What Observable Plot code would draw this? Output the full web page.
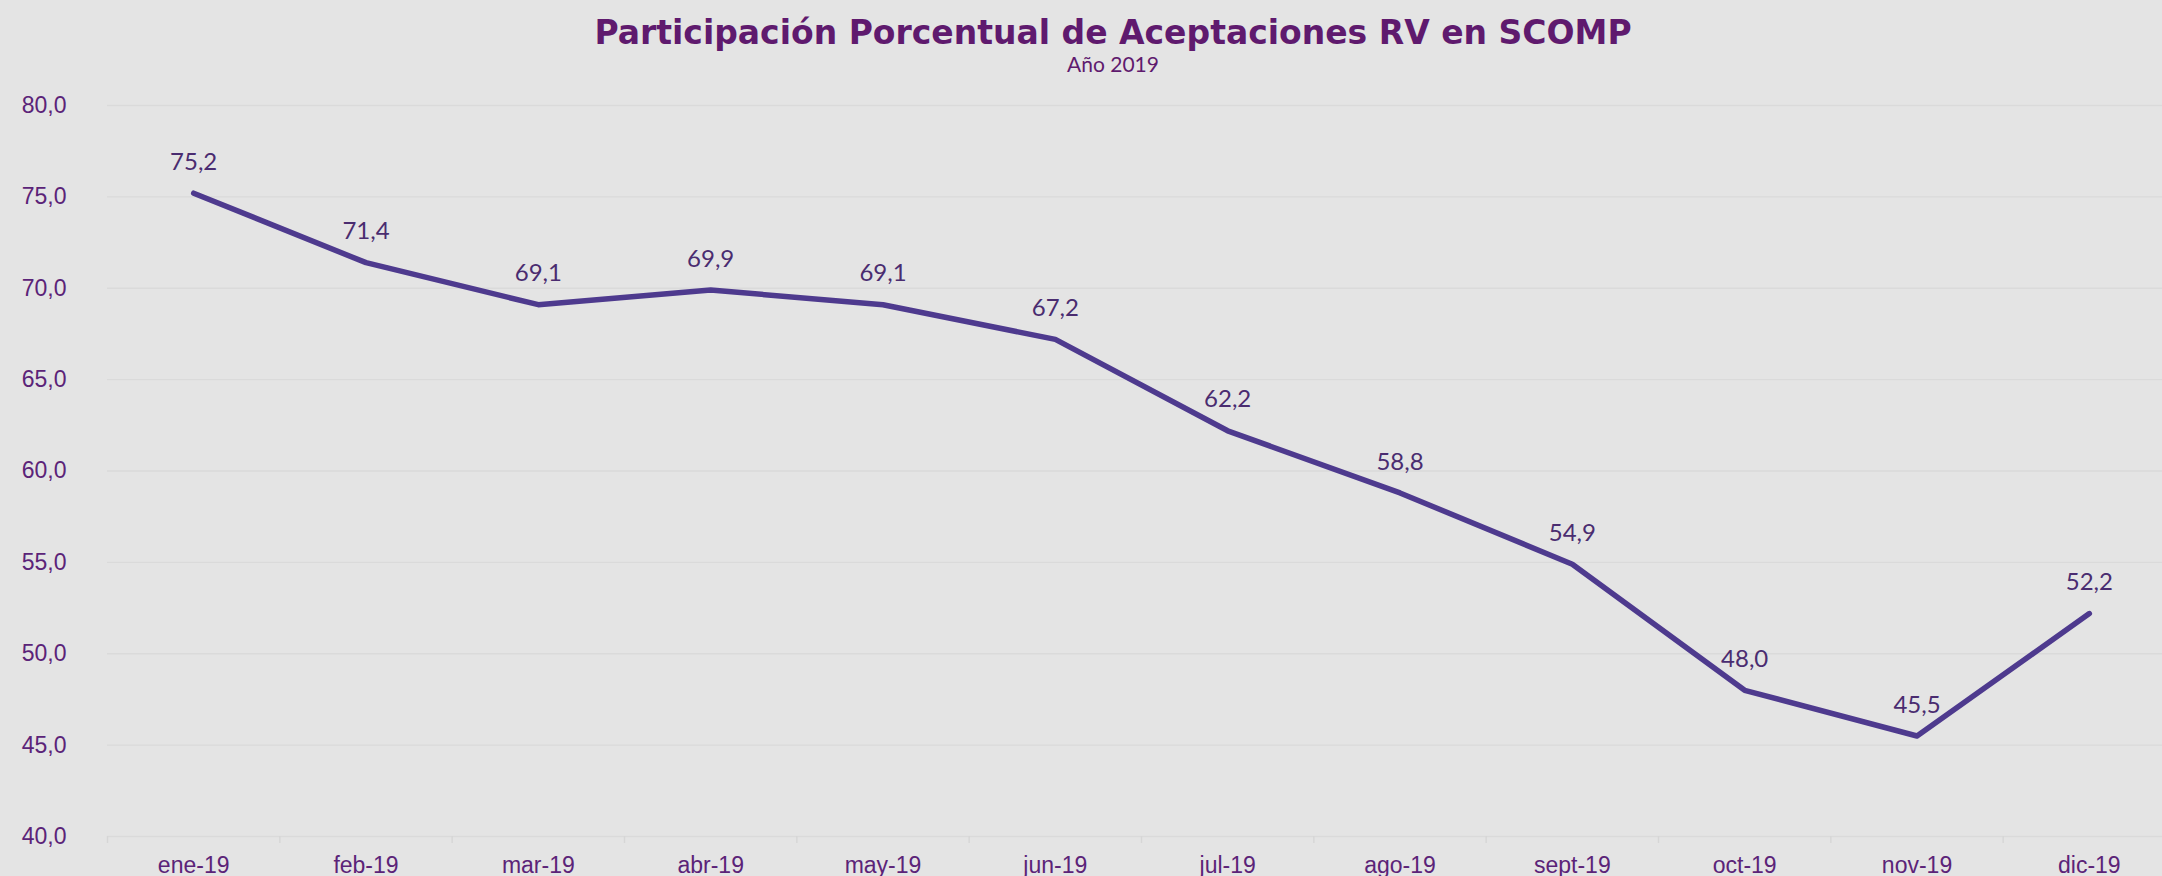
<!DOCTYPE html>
<html>
<head>
<meta charset="utf-8">
<script src="https://cdn.jsdelivr.net/npm/d3@7"></script>
<script src="https://cdn.jsdelivr.net/npm/@observablehq/plot@0.6"></script>
<style>
  html, body { margin: 0; padding: 0; background: #E4E4E4; overflow: hidden; }
  #wrap { position: relative; width: 2162px; height: 876px; }
  #head { position: relative; height: 75px; }
  #title { position: absolute; left: 0; width: 2226px; top: 16px; text-align: center;
           font-family: "DejaVu Sans", sans-serif; font-weight: bold; font-size: 33px; line-height: 33px;
           color: #5F1A6E; white-space: nowrap; }
  #subtitle { position: absolute; left: 0; width: 2226px; top: 53px; text-align: center;
           font-family: "Lato", "DejaVu Sans", sans-serif; font-weight: 400; font-size: 21px; line-height: 21px;
           color: #5F1A6E; }
  svg { display: block; }
</style>
</head>
<body>
<div id="wrap">
  <div id="head">
    <div id="title">Participación Porcentual de Aceptaciones RV en SCOMP</div>
    <div id="subtitle">Año 2019</div>
  </div>
  <div id="chart"></div>
</div>
<script>
const months = ["ene-19","feb-19","mar-19","abr-19","may-19","jun-19","jul-19","ago-19","sept-19","oct-19","nov-19","dic-19"];
const values = [75.2, 71.4, 69.1, 69.9, 69.1, 67.2, 62.2, 58.8, 54.9, 48.0, 45.5, 52.2];
const yTicks = [40, 45, 50, 55, 60, 65, 70, 75, 80];

const data = months.map((m, i) => ({i, month: m, value: values[i]}));
const idx = months.map((m, i) => i);
const bounds = months.map((m, i) => i - 0.5).concat([months.length - 0.5]);
const fmt = v => v.toFixed(1).replace(".", ",");

const purple = "#5B2378";
const lineColor = "#4E3A8E";

const chart = Plot.plot({
  width: 2162,
  height: 801,
  marginTop: 30,
  marginBottom: 40,
  marginLeft: 107,
  marginRight: 0,
  style: {background: "transparent", overflow: "visible"},
  x: {type: "linear", domain: [-0.5, months.length - 0.5], range: [107, 2175]},
  y: {domain: [40, 80]},
  marks: [
    Plot.gridY(yTicks, {stroke: "#DADADA", strokeOpacity: 1, strokeWidth: 1.4}),
    Plot.axisY(yTicks, {tickSize: 0, tickPadding: 41, tickFormat: fmt, fill: purple,
      fontSize: 23, fontFamily: "Liberation Sans, Arial, sans-serif", label: null}),
    Plot.axisX(bounds, {tickSize: 7, tickFormat: () => "", stroke: "#D6D6D6", strokeWidth: 1.4, label: null}),
    Plot.axisX(idx, {tickSize: 0, tickPadding: 20, tickFormat: i => months[i], fill: purple,
      fontSize: 23, fontFamily: "Liberation Sans, Arial, sans-serif", label: null}),
    Plot.line(data, {x: "i", y: "value", stroke: lineColor, strokeWidth: 5.5,
      strokeLinecap: "round", strokeLinejoin: "round"}),
    Plot.text(data, {x: "i", y: "value", text: d => fmt(d.value), dy: -31, fill: "#4A2C70",
      fontSize: 24, fontFamily: "Lato, DejaVu Sans, sans-serif", fontWeight: 400})
  ]
});
document.getElementById("chart").appendChild(chart);
</script>
</body>
</html>
